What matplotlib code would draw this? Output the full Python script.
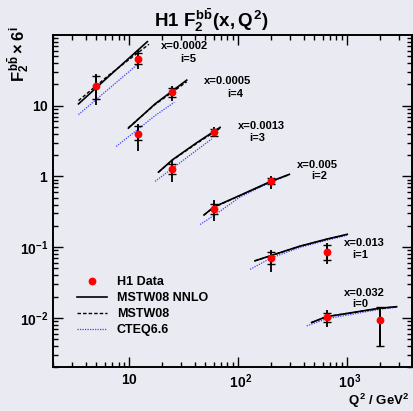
import matplotlib
matplotlib.use('Agg')
import matplotlib.pyplot as plt
from matplotlib.lines import Line2D
from matplotlib.ticker import FixedLocator, FixedFormatter, NullFormatter

plt.rcParams['font.family'] = ['Liberation Sans', 'DejaVu Sans']
plt.rcParams['font.weight'] = 'bold'
plt.rcParams['mathtext.fontset'] = 'custom'
plt.rcParams['mathtext.rm'] = 'Liberation Sans:bold'
plt.rcParams['mathtext.it'] = 'Liberation Sans:bold'
plt.rcParams['mathtext.bf'] = 'Liberation Sans:bold'
plt.rcParams['mathtext.sf'] = 'Liberation Sans:bold'

# ---------------- data ----------------
bin_x = ['0.0002', '0.0005', '0.0013', '0.005', '0.013', '0.032']
bin_i = [5, 4, 3, 2, 1, 0]

# H1 data points, plotted quantity F2^bb x 6^i
data_q2 = [5, 12, 12, 25, 25, 60, 60, 200, 200, 650, 650, 2000]
data_f2 = [18.8, 45.9, 4.0, 15.4, 1.255, 4.31, 0.347, 0.869, 0.0693, 0.0841, 0.01023, 0.00927]
stat_up = [7.7, 10.5, 1.23, 2.3, 0.255, 0.39, 0.056, 0.091, 0.0166, 0.0226, 0.00166, 0.00489]
stat_dn = [6.2, 7.3, 0.68, 2.3, 0.185, 0.53, 0.048, 0.098, 0.0116, 0.0185, 0.00135, 0.00524]
tot_up = [9.0, 15.0, 1.52, 3.7, 0.425, 0.63, 0.112, 0.161, 0.0215, 0.0286, 0.00274, 0.00489]
tot_dn = [8.6, 13.0, 1.68, 3.6, 0.425, 0.73, 0.112, 0.198, 0.0244, 0.0264, 0.00283, 0.00524]

# theory curves, one list per x bin (i = 5 .. 0)
nnlo_q2 = [[3.43, 6.5, 14.7], [9.85, 17.3, 33.8], [18.6, 25, 41.8, 68.4],
           [48.7, 60, 104, 200, 296], [143, 200, 370, 650, 1007], [474, 650, 2000, 2860]]
nnlo_f2 = [[10.6, 26.0, 80.5], [4.82, 10.6, 23.0], [1.15, 1.72, 3.0, 4.94],
           [0.285, 0.37, 0.539, 0.851, 1.07], [0.0641, 0.0759, 0.1033, 0.1297, 0.152],
           [0.0086, 0.0104, 0.0137, 0.0144]]
mstw_q2 = [[3.43, 6.5, 15.2], [9.85, 17.3, 33.8], [18.6, 25, 41.8, 68.4],
           [48.7, 60, 104, 200, 296], [143, 200, 370, 650, 1007], [474, 650, 2000, 2860]]
mstw_f2 = [[11.8, 27.0, 74.0], [4.9, 10.4, 21.8], [1.15, 1.70, 2.93, 4.80],
           [0.285, 0.365, 0.535, 0.845, 1.07], [0.064, 0.0755, 0.103, 0.129, 0.151],
           [0.0086, 0.0104, 0.0136, 0.0143]]
cteq_q2 = [[3.43, 6.5, 11.8], [7.6, 17.3, 26], [17.3, 25, 57.4],
           [44.8, 60, 104, 200, 296], [129, 200, 370, 650, 1000], [427, 650, 2000, 2700]]
cteq_f2 = [[7.5, 17.3, 37.8], [2.65, 7.23, 11.2], [0.851, 1.30, 3.40],
           [0.209, 0.28, 0.51, 0.83, 1.05], [0.0485, 0.070, 0.099, 0.125, 0.147],
           [0.0077, 0.0097, 0.0132, 0.0140]]

x_ticks = [10, 100, 1000]
x_ticklabels = [r'$10$', r'$\hspace{0.45}10^{2}$', r'$\hspace{0.45}10^{3}$']
y_ticks = [0.01, 0.1, 1, 10]
y_ticklabels = [r'$10^{-2}$', r'$10^{-1}$', r'$1\hspace{0.75}$', r'$10\hspace{0.75}$']
legend_labels = ['H1 Data', 'MSTW08 NNLO', 'MSTW08', 'CTEQ6.6']

# ---------------- figure ----------------
BG = '#EAEAF2'
W, H = 414, 411
fig = plt.figure(figsize=(W / 100, H / 100), dpi=100, facecolor=BG)
ax = fig.add_axes([53 / W, 1 - 367.3 / H, 359.5 / W, 332.3 / H], facecolor=BG)
ax.set_xscale('log')
ax.set_yscale('log')
ax.set_xlim(2, 4000)
ax.set_ylim(0.002, 100)

for qs, fs in zip(nnlo_q2, nnlo_f2):
    ax.plot(qs, fs, color='black', lw=1.2, ls='-', zorder=3)
for qs, fs in zip(mstw_q2, mstw_f2):
    ax.plot(qs, fs, color='black', lw=1.0, ls=(0, (2.5, 1.5)), zorder=3)
for qs, fs in zip(cteq_q2, cteq_f2):
    ax.plot(qs, fs, color='#4040ff', lw=0.9, ls=(0, (1, 1)), zorder=2)

ax.errorbar(data_q2, data_f2, yerr=[tot_dn, tot_up], fmt='none', ecolor='black',
            elinewidth=1.3, capsize=0, zorder=4)
ax.errorbar(data_q2, data_f2, yerr=[stat_dn, stat_up], fmt='none', ecolor='black',
            elinewidth=1.3, capsize=2.6, capthick=1.0, zorder=4)
ax.plot(data_q2, data_f2, 'o', color='#ff0000', ms=4.6, mec='#ff0000', zorder=5)

# bin annotations
ann_pos = [(185, 46, 188.5, 58.5), (228, 80.5, 235, 94), (261, 126, 257.5, 138),
           (317, 165, 319, 175.5), (364.5, 243.3, 360, 254.5), (364.5, 292.7, 360, 303.5)]
for (xl, yl, xi, yi), bx, bi in zip(ann_pos, bin_x, bin_i):
    fig.text(xl / W, 1 - yl / H, 'x=' + bx, ha='center', va='center', fontsize=8, fontweight='bold')
    fig.text(xi / W, 1 - yi / H, 'i=%d' % bi, ha='center', va='center', fontsize=8, fontweight='bold')

# ticks
ax.xaxis.set_major_locator(FixedLocator(x_ticks))
ax.xaxis.set_major_formatter(FixedFormatter(x_ticklabels))
ax.yaxis.set_major_locator(FixedLocator(y_ticks))
ax.yaxis.set_major_formatter(FixedFormatter(y_ticklabels))
ax.xaxis.set_minor_formatter(NullFormatter())
ax.yaxis.set_minor_formatter(NullFormatter())
ax.tick_params(which='both', direction='in', top=True, right=True, width=1.0)
ax.tick_params(which='major', length=7)
ax.tick_params(which='minor', length=3.5)
ax.tick_params(axis='x', which='major', pad=4, labelsize=10)
ax.tick_params(axis='y', which='major', pad=3, labelsize=10)
for sp in ax.spines.values():
    sp.set_linewidth(1.4)
    sp.set_color('black')

# labels & title
fig.text(211 / W, 1 - 20 / H, r'H1 $F_2^{b\bar{b}}(x,Q^2)$', ha='center', va='center',
         fontsize=13.5, fontweight='bold')
fig.text(19 / W, 1 - 27 / H, r'$F_2^{b\bar{b}}\times 6^{i}$', rotation=90, ha='center',
         va='top', fontsize=12)
fig.text(409 / W, 1 - 400.5 / H, r'$Q^2$ / GeV$^2$', ha='right', va='center', fontsize=9.5,
         fontweight='bold')

handles = [Line2D([], [], marker='o', color='#ff0000', ls='none', ms=4.6),
           Line2D([], [], color='black', lw=1.2),
           Line2D([], [], color='black', lw=1.0, ls=(0, (2.5, 1.5))),
           Line2D([], [], color='#4040ff', lw=0.9, ls=(0, (1, 1)))]
ax.legend(handles, legend_labels, loc='upper left',
          bbox_to_anchor=((76.7 - 53) / 359.5, 1 - (276 - 35) / 332.3),
          frameon=False, borderpad=0, borderaxespad=0, handlelength=2.4,
          handletextpad=0.8, labelspacing=0.32,
          prop={'family': 'Liberation Sans', 'weight': 'bold', 'size': 9})

fig.savefig('out.png', dpi=100, facecolor=BG)
